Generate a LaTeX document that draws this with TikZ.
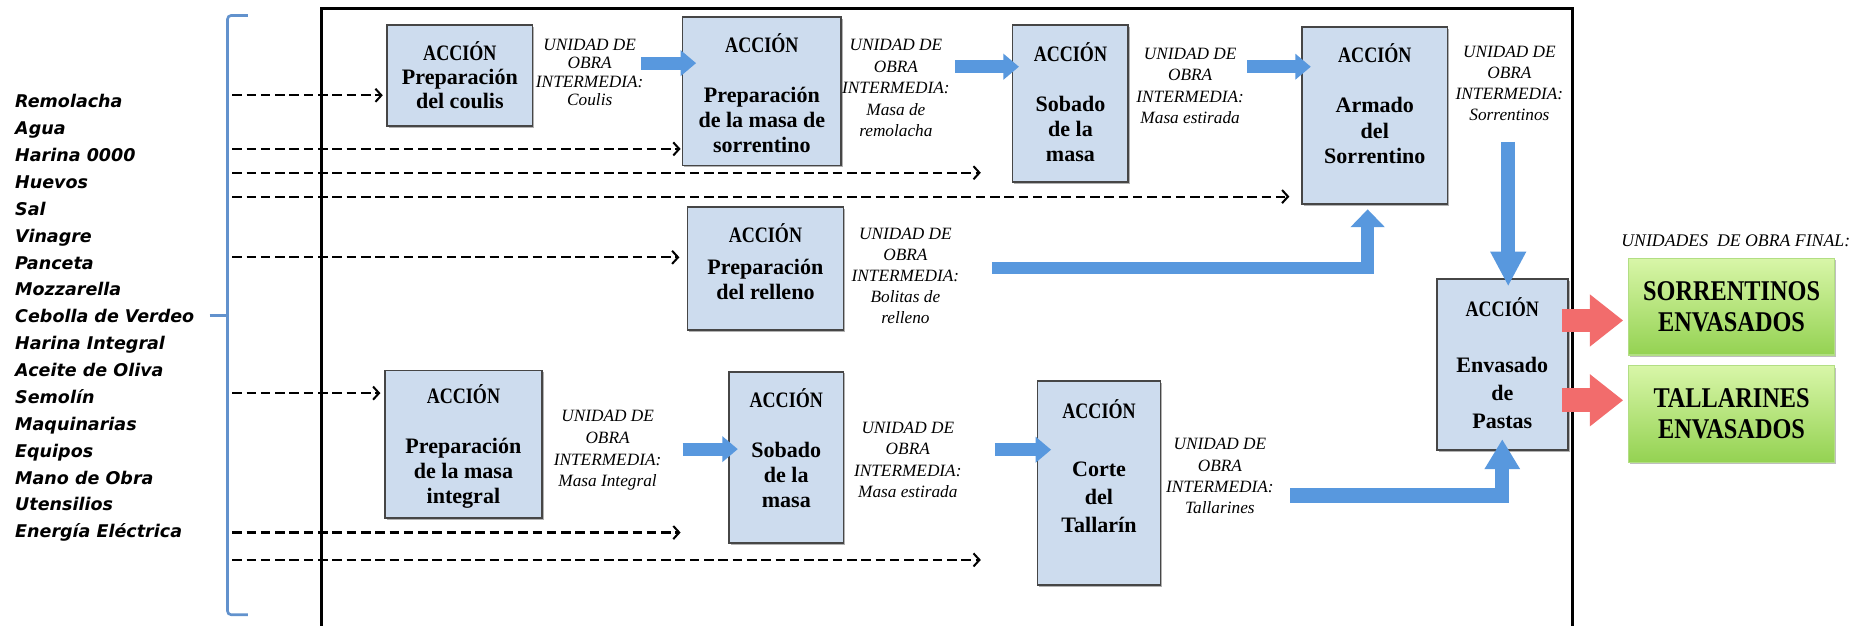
\documentclass[tikz,border=0pt]{standalone}
\usepackage{graphicx}
\usepackage{fontspec}
\setmainfont{Liberation Serif}
\newfontfamily\listfont{DejaVu Sans}
\usetikzlibrary{arrows.meta,shadows}
\definecolor{boxfill}{RGB}{205,220,238}
\definecolor{boxline}{RGB}{70,70,70}
\definecolor{bluearr}{RGB}{88,152,222}
\definecolor{redarr}{RGB}{242,108,108}
\definecolor{greentop}{RGB}{216,246,168}
\definecolor{greenbot}{RGB}{148,210,82}
\definecolor{greenline}{RGB}{178,222,132}
\definecolor{bracecol}{RGB}{98,146,205}
\newcommand{\accn}{\scalebox{0.82}[1]{ACCIÓN}}
\newcommand{\gtxt}[1]{\scalebox{0.85}[1]{#1}}
\begin{document}
\begin{tikzpicture}[x=1pt,y=-1pt,
  abox/.style={draw=boxline, line width=1.4pt, fill=boxfill, inner sep=0pt,
    drop shadow={shadow xshift=1.5pt, shadow yshift=-1.5pt, opacity=0.3, fill=black}},
  atext/.style={font=\bfseries\fontsize{18.5}{#1}\selectfont, align=center, inner sep=0pt},
  ulabel/.style={font=\itshape\fontsize{14.5}{#1}\selectfont, align=center, inner sep=0pt},
  listtext/.style={font=\listfont\bfseries\itshape\fontsize{14.7}{22.56}\selectfont, align=left, inner sep=0pt},
  dasharr/.style={draw=black, line width=1.8pt, dash pattern=on 8pt off 4pt, -{Straight Barb[length=5pt,width=11pt,line width=1.7pt]}},
  barrow/.style={draw=bluearr, line width=11pt, -{Triangle[length=13pt,width=21pt]}},
  bentarrow/.style={draw=bluearr, line width=11pt, line join=miter, -{Triangle[length=15pt,width=28pt]}},
  rarrow/.style={draw=redarr, line width=20pt, -{Triangle[length=28pt,width=42pt]}},
  gbox/.style={draw=greenline, line width=1pt, top color=greentop, bottom color=greenbot, inner sep=0pt,
    font=\bfseries\fontsize{24}{26}\selectfont, align=center,
    drop shadow={shadow xshift=1.5pt, shadow yshift=-1.5pt, opacity=0.25, fill=black}}
]
\useasboundingbox (0,0) rectangle (1568,525);
\fill[white] (0,0) rectangle (1568,525);

% frame
\draw[line width=2.2pt] (270,530) -- (270,7) -- (1320,7) -- (1320,530);

% input list and brace
\node[listtext, anchor=west] (insumos) at (12.6,267) {Remolacha\\Agua\\Harina 0000\\Huevos\\Sal\\Vinagre\\Panceta\\Mozzarella\\Cebolla de Verdeo\\Harina Integral\\Aceite de Oliva\\Semolín\\Maquinarias\\Equipos\\Mano de Obra\\Utensilios\\Energía Eléctrica};
\draw[bracecol, line width=2.2pt, rounded corners=3pt] (208,13) -- (191,13) -- (191,516) -- (208,516);
\draw[bracecol, line width=2.2pt] (176,265) -- (191,265);

% action boxes
\node[abox, minimum width=122pt, minimum height=85pt] (coulis) at (386,63.5) {};
\node[abox, minimum width=133pt, minimum height=124.5pt] (masa) at (639.5,76.75) {};
\node[abox, minimum width=97pt, minimum height=132pt] (sob1) at (898.5,87) {};
\node[abox, minimum width=122pt, minimum height=148.5pt] (armado) at (1154,96.75) {};
\node[abox, minimum width=131pt, minimum height=103pt] (relleno) at (642.5,225.5) {};
\node[abox, minimum width=132pt, minimum height=124pt] (integral) at (389,373) {};
\node[abox, minimum width=96pt, minimum height=144pt] (sob2) at (660,384) {};
\node[abox, minimum width=103pt, minimum height=171pt] (corte) at (922.5,405.5) {};
\node[abox, minimum width=110pt, minimum height=144pt] (envasado) at (1261,306) {};

\node[atext=20.25] (coulisT) at (386,63.25) {\accn\\Preparación\\del coulis};
\node[atext=21] (masaT) at (639.5,78.25) {\accn\\[21pt]Preparación\\de la masa de\\sorrentino};
\node[atext=21] (sob1T) at (898.5,85.5) {\accn\\[21pt]Sobado\\de la\\masa};
\node[atext=21] (armadoT) at (1154,87) {\accn\\[21pt]Armado\\del\\Sorrentino};
\node[atext=21] (rellenoT) at (642.5,219.75) {\accn\\[5.5pt]Preparación\\del relleno};
\node[atext=21] (integralT) at (389,374.75) {\accn\\[21pt]Preparación\\de la masa\\integral};
\node[atext=21] (sob2T) at (660,376) {\accn\\[21pt]Sobado\\de la\\masa};
\node[atext=23.5] (corteT) at (922.5,391) {\accn\\[25pt]Corte\\del\\Tallarín};
\node[atext=23.5] (envasadoT) at (1261,305) {\accn\\[23.5pt]Envasado\\de\\Pastas};

% intermediate labels
\node[ulabel=15.2] (lcoulis) at (495,60.75) {UNIDAD DE\\OBRA\\INTERMEDIA:\\Coulis};
\node[ulabel=18] (lremo) at (752,74) {UNIDAD DE\\OBRA\\INTERMEDIA:\\Masa de\\remolacha};
\node[ulabel=18] (lest1) at (999,72) {UNIDAD DE\\OBRA\\INTERMEDIA:\\Masa estirada};
\node[ulabel=17.5] (lsorr) at (1267,70) {UNIDAD DE\\OBRA\\INTERMEDIA:\\Sorrentinos};
\node[ulabel=17.8] (lbol) at (760,231.5) {UNIDAD DE\\OBRA\\INTERMEDIA:\\Bolitas de\\relleno};
\node[ulabel=18.2] (lint) at (510,378) {UNIDAD DE\\OBRA\\INTERMEDIA:\\Masa Integral};
\node[ulabel=18] (lest2) at (762,386) {UNIDAD DE\\OBRA\\INTERMEDIA:\\Masa estirada};
\node[ulabel=17.8] (ltall) at (1024,399.7) {UNIDAD DE\\OBRA\\INTERMEDIA:\\Tallarines};
\node[font=\itshape\fontsize{14.9}{17}\selectfont, inner sep=0pt] (lfinal) at (1457,202) {UNIDADES\ \ DE OBRA FINAL:};

% final products
\node[gbox, minimum width=173pt, minimum height=81pt] (sorr) at (1453.5,257.5) {\gtxt{SORRENTINOS}\\\gtxt{ENVASADOS}};
\node[gbox, minimum width=173pt, minimum height=81pt] (tall) at (1453.5,347.5) {\gtxt{TALLARINES}\\\gtxt{ENVASADOS}};

% dashed inputs
\coordinate (s1) at (195,80);
\coordinate (s2) at (195,125);
\coordinate (s3) at (195,145);
\coordinate (s4) at (195,165);
\coordinate (s5) at (195,216);
\coordinate (s6) at (195,330);
\coordinate (s7) at (195,447);
\coordinate (s8) at (195,470);
\draw[dasharr, shorten >=3pt] (s1) -- (coulis.west |- s1);
\draw[dasharr, shorten >=1pt] (s2) -- (masa.west |- s2);
\draw[dasharr, shorten >=26pt] (s3) -- (sob1.west |- s3);
\draw[dasharr, shorten >=10pt] (s4) -- (armado.west |- s4);
\draw[dasharr, shorten >=6pt] (s5) -- (relleno.west |- s5);
\draw[dasharr, shorten >=3pt] (s6) -- (integral.west |- s6);
\draw[dasharr, shorten >=40pt] (s7) -- (sob2.west |- s7);
\draw[dasharr, shorten >=47pt] (s8) -- (corte.west |- s8);

% blue flow arrows
\coordinate (t1) at (538,53);
\coordinate (t2) at (802,56);
\coordinate (t3) at (1047,56);
\coordinate (t4) at (573,377);
\coordinate (t5) at (835,377.5);
\draw[barrow, shorten >=-12pt] (t1) -- (masa.west |- t1);
\draw[barrow, shorten >=-6pt] (t2) -- (sob1.west |- t2);
\draw[barrow, shorten >=-8pt] (t3) -- (armado.west |- t3);
\draw[barrow, shorten >=-8pt] (t4) -- (sob2.west |- t4);
\draw[barrow, shorten >=-12pt] (t5) -- (corte.west |- t5);

\coordinate (bol) at (832.5,225);
\coordinate (bolc) at (1148,225);
\draw[bentarrow, line width=10.5pt, shorten >=4pt] (bol) -- (bolc) -- (bolc |- armado.south);

\coordinate (sdown) at (1266,119);
\draw[draw=bluearr, line width=12pt, -{Triangle[length=29pt,width=28pt]}, shorten >=-7pt] (sdown) -- (sdown |- envasado.north);

\coordinate (tal) at (1083,416);
\coordinate (talc) at (1261,416);
\draw[bentarrow, line width=12pt, -{Triangle[length=25pt,width=28pt]}, shorten >=-10pt] (tal) -- (talc) -- (talc |- envasado.south);

% red arrows
\coordinate (r1) at (1311,269);
\coordinate (r2) at (1311,336);
\draw[rarrow, shorten >=4pt] (r1) -- (sorr.west |- r1);
\draw[rarrow, shorten >=4pt] (r2) -- (tall.west |- r2);
\end{tikzpicture}
\end{document}
